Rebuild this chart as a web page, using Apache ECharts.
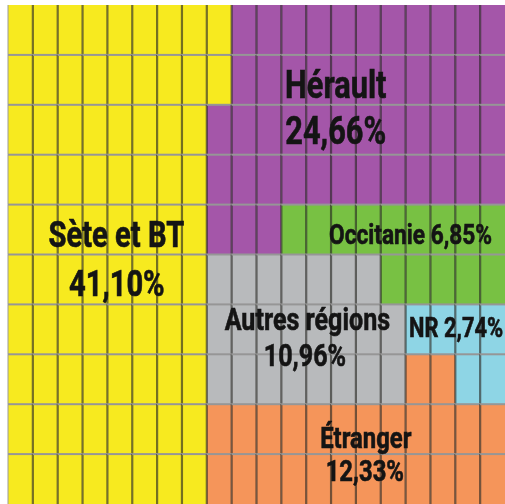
<!DOCTYPE html>
<html>
<head>
<meta charset="utf-8">
<script src="https://cdn.jsdelivr.net/npm/echarts@6/dist/echarts.min.js"></script>
<style>
  html, body { margin: 0; padding: 0; background: #fff; }
  #chart { width: 505px; height: 504px; }
</style>
</head>
<body>
<div id="chart"></div>
<script>
// catégories de la grille (une case = 0,5 %)
const categories = ['Sète et BT', 'Hérault', 'Occitanie', 'Autres régions', 'NR', 'Étranger'];
const codes = ['S', 'H', 'O', 'A', 'N', 'E'];
const percents = ['41,10%', '24,66%', '6,85%', '10,96%', '2,74%', '12,33%'];
const colors = ['#f7ea1f', '#a456a9', '#78c143', '#b8babc', '#8ed5e5', '#f5955a'];

// case par case, ligne par ligne
const layout = [
  'SSSSSSSSSHHHHHHHHHHH',
  'SSSSSSSSSHHHHHHHHHHH',
  'SSSSSSSSHHHHHHHHHHHH',
  'SSSSSSSSHHHHHHHHHHHH',
  'SSSSSSSSHHHOOOOOOOOO',
  'SSSSSSSSAAAAAAAOOOOO',
  'SSSSSSSSAAAAAAAANNNN',
  'SSSSSSSSAAAAAAAAEENN',
  'SSSSSSSSEEEEEEEEEEEE',
  'SSSSSSSSEEEEEEEEEEEE'
];

// étiquettes : texte, x, y (en cases), taille, alignement
const labels = [
  ['Hérault', 13.19, 1.56, 38, 'center'],
  [percents[1], 13.19, 2.48, 38, 'center'],
  [categories[0], 4.36, 4.55, 36, 'center'],
  [percents[0], 4.38, 5.54, 36, 'center'],
  ['Occitanie ' + percents[2], 16.2, 4.55, 28, 'center'],
  [categories[3], 12.05, 6.26, 31, 'center'],
  [percents[3], 11.95, 6.97, 31, 'center'],
  ['NR ' + percents[4], 16.14, 6.44, 27, 'left'],
  [categories[5], 14.4, 8.63, 29.5, 'center'],
  [percents[5], 14.36, 9.29, 29.5, 'center']
];

let cells = [];
layout.forEach(function (row, r) {
  row.split('').forEach(function (ch, c) {
    cells.push([c, r, codes.indexOf(ch)]);
  });
});

let chart = echarts.init(document.getElementById('chart'));
let option = {
  animation: false,
  grid: { left: 8, top: 5, width: 502, height: 505 },
  xAxis: { type: 'value', min: 0, max: 20, show: false },
  yAxis: { type: 'value', min: 0, max: 10, inverse: true, show: false },
  series: [
    {
      type: 'custom',
      name: 'cases',
      clip: false,
      data: cells,
      renderItem: function (params, api) {
        let c = api.value(0), r = api.value(1), k = api.value(2);
        let p0 = api.coord([c, r]);
        let p1 = api.coord([c + 1, r + 1]);
        let x0 = p0[0], y0 = p0[1], x1 = p1[0], y1 = p1[1];
        return {
          type: 'group',
          children: [
            { type: 'rect', shape: { x: x0, y: y0, width: x1 - x0, height: y1 - y0 }, style: { fill: colors[k] } },
            { type: 'line', shape: { x1: x0, y1: y0, x2: x0, y2: y1 }, style: { stroke: c === 0 ? '#9a9a9a' : 'rgba(35,35,30,0.62)', lineWidth: c === 0 ? 1 : 2.2 } },
            { type: 'line', shape: { x1: x0, y1: y0, x2: x1, y2: y0 }, style: { stroke: '#969696', lineWidth: r === 0 ? 0 : 2 } }
          ]
        };
      }
    },
    {
      type: 'custom',
      name: 'étiquettes',
      silent: true,
      clip: false,
      z: 10,
      data: labels.map(function (l) { return [l[1], l[2]]; }),
      renderItem: function (params, api) {
        let l = labels[params.dataIndex];
        let p = api.coord([api.value(0), api.value(1)]);
        return {
          type: 'text',
          x: p[0],
          y: p[1] + l[3] * 0.16,
          scaleX: 0.81,
          style: {
            text: l[0],
            align: l[4],
            verticalAlign: 'middle',
            fontFamily: 'Roboto',
            fontWeight: 'bold',
            fontSize: l[3],
            fill: '#141414',
            stroke: '#141414',
            lineWidth: 0.6
          }
        };
      }
    }
  ]
};
chart.setOption(option);
</script>
</body>
</html>
